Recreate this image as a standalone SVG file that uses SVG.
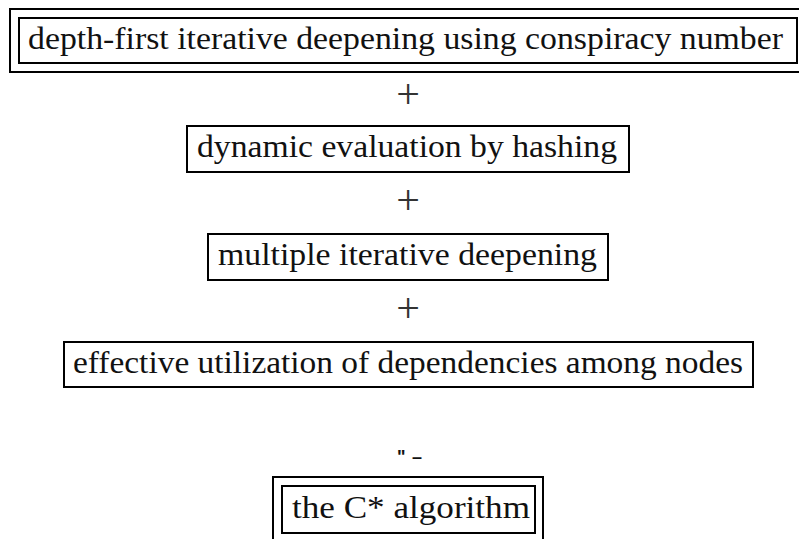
<svg xmlns="http://www.w3.org/2000/svg" width="799" height="539" viewBox="0 0 799 539">
  <style>
    .frame { fill: none; stroke: #000; stroke-width: 2; }
    .label { font-family: "Liberation Serif", "Times New Roman", serif; font-size: 32px; fill: #111; }
    .plus { font-family: "Liberation Serif", "Times New Roman", serif; font-size: 42px; fill: #333; text-anchor: middle; }
    .mark { font-family: "Liberation Sans", Arial, sans-serif; font-size: 18px; font-weight: bold; fill: #111; }
  </style>
  <rect width="799" height="539" fill="#fff"/>

  <g id="node-depth-first">
    <rect class="frame" x="10" y="9" width="800" height="63"/>
    <rect class="frame" x="19" y="18" width="778" height="45"/>
    <text class="label" x="28" y="49" textLength="755" lengthAdjust="spacingAndGlyphs">depth-first iterative deepening using conspiracy number</text>
  </g>

  <g id="node-dynamic-evaluation">
    <rect class="frame" x="187" y="126" width="442" height="46"/>
    <text class="label" x="197" y="157" textLength="420" lengthAdjust="spacingAndGlyphs">dynamic evaluation by hashing</text>
  </g>

  <g id="node-multiple-deepening">
    <rect class="frame" x="208" y="234" width="400" height="46"/>
    <text class="label" x="218" y="265" textLength="379" lengthAdjust="spacingAndGlyphs">multiple iterative deepening</text>
  </g>

  <g id="node-dependencies">
    <rect class="frame" x="64" y="342" width="689" height="45"/>
    <text class="label" x="73" y="373" textLength="670" lengthAdjust="spacingAndGlyphs">effective utilization of dependencies among nodes</text>
  </g>

  <g id="node-c-star">
    <rect class="frame" x="273" y="477" width="270" height="80"/>
    <rect class="frame" x="282" y="486" width="253" height="47"/>
    <text class="label" x="292" y="518" textLength="238" lengthAdjust="spacingAndGlyphs">the C* algorithm</text>
  </g>

  <g id="connectors">
    <text class="plus" x="408" y="108">+</text>
    <text class="plus" x="408" y="214">+</text>
    <text class="plus" x="408" y="322">+</text>
    <text class="mark" y="463"><tspan x="397">"</tspan><tspan x="412">–</tspan></text>
  </g>
</svg>
